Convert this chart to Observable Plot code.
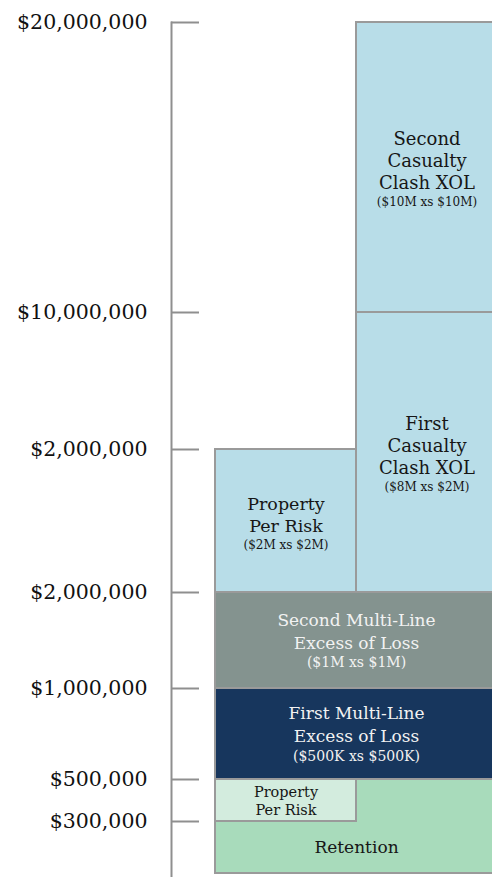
<!DOCTYPE html>
<html>
<head>
<meta charset="utf-8">
<script src="https://cdn.jsdelivr.net/npm/d3@7"></script>
<script src="https://cdn.jsdelivr.net/npm/@observablehq/plot@0.6"></script>
<style>
  html, body { margin: 0; padding: 0; background: #fff; }
  #chart { width: 492px; height: 877px; overflow: hidden; }
</style>
</head>
<body>
<div id="chart"></div>
<script>
// ---- data ----
const yTickValues = [300000, 500000, 1000000, 2000000, 4000000, 10000000, 20000000];
const yTickLabels = ["$300,000", "$500,000", "$1,000,000", "$2,000,000", "$2,000,000", "$10,000,000", "$20,000,000"];

const layerKinds = ["retention", "propertySmall", "multi1", "multi2", "property", "casualty", "casualty"];
const layerNames = [
  "Retention",
  "Property\nPer Risk",
  "First Multi-Line\nExcess of Loss",
  "Second Multi-Line\nExcess of Loss",
  "Property\nPer Risk",
  "First\nCasualty\nClash XOL",
  "Second\nCasualty\nClash XOL"
];
const layerTerms = [null, null, "($500K xs $500K)", "($1M xs $1M)", "($2M xs $2M)", "($8M xs $2M)", "($10M xs $10M)"];
const layerLow  = [0, 300000, 500000, 1000000, 2000000, 2000000, 10000000];
const layerHigh = [500000, 500000, 1000000, 2000000, 4000000, 10000000, 20000000];
const layerColStart = [0, 0, 0, 0, 0, 1, 1];
const layerColEnd   = [2, 1, 2, 2, 1, 2, 2];

// ---- styles ----
const kindColors = {
  retention: "#a8dbbb", propertySmall: "#d3ecde", multi1: "#17365d",
  multi2: "#84938f", property: "#b8dde8", casualty: "#b8dde8"
};
const kindText = {
  retention:     {size: 17,   lh: 22, terms: 0,  ink: "#161616", shift: 1},
  propertySmall: {size: 14.5, lh: 18, terms: 0,  ink: "#161616", shift: 2},
  multi1:        {size: 17,   lh: 23, terms: 14, ink: "#f2f2f2", shift: 1},
  multi2:        {size: 17,   lh: 23, terms: 14, ink: "#f2f2f2", shift: 1},
  property:      {size: 17.5, lh: 22, terms: 12, ink: "#161616", shift: 3},
  casualty:      {size: 18,   lh: 22, terms: 12, ink: "#161616", shift: 3}
};

const W = 492, H = 877;
// uneven (piecewise-linear) vertical tower scale: each break's height above the chart floor
const yStops = [4, 56, 98, 189, 285, 428, 565, 855];
const yTransform = d3.scaleLinear().domain([0, ...yTickValues]).range(yStops);
const xOpts = {domain: [0, 2], range: [215, 497]};

const layers = layerNames.map((name, i) => ({
  kind: layerKinds[i], name, terms: layerTerms[i],
  lo: layerLow[i], hi: layerHigh[i], c0: layerColStart[i], c1: layerColEnd[i]
}));
// label position: centre of the visible part of each layer
layers.forEach((d, i) => {
  let ceil = d.hi;
  layers.forEach((e, j) => {
    if (j !== i && e.lo > d.lo && e.lo < ceil && e.c0 < d.c1 && e.c1 > d.c0) ceil = e.lo;
  });
  d.cx = (d.c0 + d.c1) / 2;
  d.ly = yTransform.invert((yTransform(d.lo) + yTransform(ceil)) / 2);
});

const marks = [
  Plot.rect(layers, {
    x1: "c0", x2: "c1", y1: "lo", y2: "hi",
    fill: "kind", stroke: "#9a9a9a", strokeWidth: 2
  })
];

layers.forEach(d => {
  const st = kindText[d.kind];
  const n = d.name.split("\n").length;
  const termsH = d.terms ? st.terms * 1.3 : 0;
  const blockH = n * st.lh + termsH;
  marks.push(Plot.text([d], {
    x: "cx", y: "ly", text: "name", fontSize: st.size, lineHeight: st.lh / st.size,
    lineAnchor: "top", dy: -blockH / 2 + st.shift, fill: st.ink
  }));
  if (d.terms) {
    marks.push(Plot.text([d], {
      x: "cx", y: "ly", text: "terms", fontSize: st.terms,
      lineAnchor: "top", dy: -blockH / 2 + n * st.lh + st.shift + 2, fill: st.ink
    }));
  }
});

marks.push(Plot.frame({anchor: "left", stroke: "#8f8f8f", strokeWidth: 2}));
marks.push(Plot.axisY(yTickValues, {
  anchor: "left", tickSize: -28, tickPadding: 52,
  tickFormat: v => yTickLabels[yTickValues.indexOf(v)],
  stroke: "#8f8f8f", strokeWidth: 2, fill: "#111", fontSize: 20.5
}));

const chart = Plot.plot({
  width: W, height: H,
  marginLeft: 171, marginRight: 0, marginTop: 22, marginBottom: 0,
  x: {...xOpts, axis: null},
  y: {transform: yTransform, domain: [0, 855], axis: null},
  color: {domain: Object.keys(kindColors), range: Object.values(kindColors)},
  style: {fontFamily: "'DejaVu Serif', serif", background: "#fff", overflow: "hidden"},
  marks
});
document.getElementById("chart").appendChild(chart);
</script>
</body>
</html>
